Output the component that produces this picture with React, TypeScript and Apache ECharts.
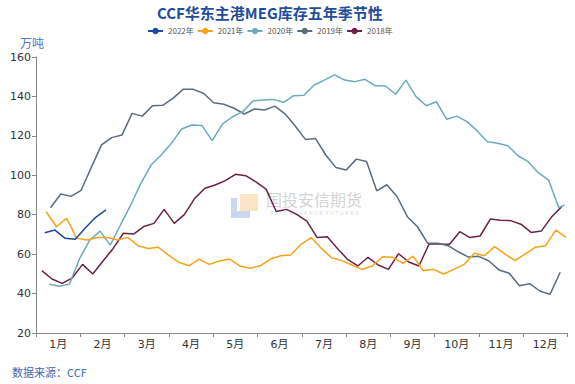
import React, { useEffect, useRef } from "react";
import * as echarts from "echarts";

const months = ["1月", "2月", "3月", "4月", "5月", "6月", "7月", "8月", "9月", "10月", "11月", "12月"];
const seriesNames = ["2022年", "2021年", "2020年", "2019年", "2018年"];
const seriesColors = ["#1a4ba0", "#f5a31a", "#6aacb8", "#5b6c7c", "#6b2248"];
// first Friday (day-of-year index, Jan 1 = 0) of each year's weekly data
const startDays = [6, 7, 9, 10, 4];

const v2022 = [70.9, 72.2, 68, 67.5, 73.4, 78.7, 82.4];
const v2021 = [81.5, 73.9, 78.2, 68, 67.2, 68.4, 68.4, 67.2, 68.5, 64.3, 62.9, 63.5,
  59.5, 55.9, 54.1, 57.5, 54.8, 56.5, 57.5, 54, 52.8, 54.1, 57.5, 59.2, 59.6,
  65, 68.4, 62.9, 58.2, 56.7, 54.5, 52.3, 54, 58.7, 58.4, 55.3, 59, 51.6, 52.3,
  49.9, 52.3, 54.8, 60.4, 59.2, 63.8, 60.1, 56.7, 60.1, 63.5, 64.3, 72.2, 68.5];
const v2020 = [44.7, 43.7, 44.8, 57.9, 67.2, 71.7, 64.6, 74.8, 84.9, 95.9, 105.2, 110.3,
  116.2, 123.5, 125.5, 125.2, 117.6, 125.9, 129.7, 132.3, 137.7, 138.2, 138.5, 137, 140.4, 140.6,
  145.8, 148.3, 150.9, 148.3, 147.5, 148.7, 145.4, 145.3, 141.1, 148.3, 139.9, 135.3, 137.3,
  128.4, 130, 127.2, 122.5, 117, 116.2, 115, 109.9, 106.9, 101.3, 97.6, 83.6, 84.9];
const lastDay2020 = 363;
const v2019 = [83.5, 90.5, 89.3, 92.4, 104, 115.4, 119.1, 120.4, 131.4, 130, 135.3, 135.5,
  139, 143.6, 143.6, 141.6, 136.8, 136, 134, 131.1, 133.6, 133.1, 135.1, 131.2, 125,
  118.2, 118.6, 110.3, 103.9, 102.7, 108.2, 107, 92.1, 95.2, 89.1, 79, 73.9, 65.5, 65.5,
  64.3, 61.2, 58.5, 58.9, 56.5, 52, 50.3, 44, 45, 41.3, 39.6, 50.8];
const v2018 = [51.6, 47.4, 45.2, 48, 54.8, 49.9, 56.5, 62.9, 70.6, 70.2, 74, 75.6, 82.7,
  75.6, 80.2, 88.3, 93.4, 95.1, 97.3, 100.5, 99.8, 96.7, 93, 81.6, 82.7, 80.2,
  76.8, 68.5, 68.8, 62.9, 57.3, 54, 58.4, 54.5, 52.3, 60.2, 56, 54, 65.3, 65.1,
  65, 71.4, 68.4, 69.2, 77.8, 77.2, 77, 75.2, 71, 71.7, 78.8, 84.1];

const allValues = [v2022, v2021, v2020, v2019, v2018];

export default function App() {
  const ref = useRef<HTMLDivElement>(null);
  useEffect(() => {
    if (!ref.current) return;
    const chart = echarts.init(ref.current, undefined, { renderer: "svg" });
    const series = allValues.map((vals, si) => {
      const data = vals.map((v, i) => {
        let d = startDays[si] + 7 * i;
        if (si === 2 && i === vals.length - 1) d = lastDay2020;
        return [d, v];
      });
      return {
        name: seriesNames[si],
        type: "line",
        xAxisIndex: 1,
        data,
        symbol: "circle",
        showSymbol: false,
        lineStyle: { width: 1.5, color: seriesColors[si] },
        itemStyle: { color: seriesColors[si] },
        z: 10 - si,
      };
    });
    chart.setOption({
      animation: false,
      textStyle: { fontFamily: "'DejaVu Sans', 'Noto Sans CJK SC', sans-serif" },
      title: {
        text: "CCF华东主港MEG库存五年季节性",
        left: 152,
        top: 0,
        textStyle: {
          fontSize: 15,
          fontWeight: "bold",
          color: "#1f4e9c",
          fontFamily: "'Noto Sans CJK SC', sans-serif",
        },
      },
      legend: {
        data: seriesNames,
        left: 142,
        top: 22,
        itemWidth: 15,
        itemHeight: 8,
        itemGap: 3,
        textStyle: { fontSize: 8, color: "#555", fontFamily: "'Noto Sans CJK SC', sans-serif" },
      },
      grid: { left: 36, right: 7.5, top: 57, bottom: 51, containLabel: false },
      xAxis: [
        {
          type: "category",
          data: months,
          boundaryGap: true,
          axisLine: { show: true, lineStyle: { color: "#888", width: 1 } },
          axisTick: { show: true, length: 4, lineStyle: { color: "#888" } },
          axisLabel: { color: "#333", fontSize: 11, margin: 6 },
          splitLine: { show: false },
        },
        {
          type: "value",
          min: 0,
          max: 365,
          show: false,
          splitLine: { show: false },
        },
      ],
      yAxis: {
        type: "value",
        min: 20,
        max: 160,
        interval: 20,
        axisLine: { show: true, lineStyle: { color: "#888", width: 1 } },
        axisTick: { show: true, length: 4, lineStyle: { color: "#888" } },
        axisLabel: { color: "#333", fontSize: 11, margin: 5 },
        splitLine: { show: false },
      },
      graphic: [
        {
          type: "text",
          left: 20,
          top: 36,
          style: { text: "万吨", fontSize: 12, fill: "#4a78cc", fontFamily: "'Noto Sans CJK SC', sans-serif" },
        },
        {
          type: "text",
          left: 12,
          top: 366,
          style: { text: "数据来源：CCF", fontSize: 11, fill: "#3a68b4", fontFamily: "'Noto Sans CJK SC', sans-serif" },
        },
        {
          type: "group",
          z: 0,
          children: [
            { type: "rect", shape: { x: 240, y: 194, width: 18, height: 17 }, style: { fill: "#f8dfb4", opacity: 0.8 }, z: 0 },
            { type: "rect", shape: { x: 231, y: 198, width: 6, height: 20 }, style: { fill: "#c8d3ec", opacity: 0.9 }, z: 1 },
            { type: "rect", shape: { x: 231, y: 211, width: 19, height: 7 }, style: { fill: "#c8d3ec", opacity: 0.9 }, z: 1 },
            {
              type: "text",
              x: 266,
              y: 191,
              style: { text: "国投安信期货", fontSize: 16, fill: "#d4d4d4", fontFamily: "'Noto Sans CJK SC', sans-serif" },
              z: 1,
            },
            {
              type: "text",
              x: 270,
              y: 210,
              style: { text: "S D I C  E S S E N C E  F U T U R E S", fontSize: 5, fill: "#dadada", fontFamily: "'DejaVu Sans', sans-serif" },
              z: 1,
            },
          ],
        },
      ],
      series,
    });
    return () => chart.dispose();
  }, []);
  return <div ref={ref} style={{ position: "absolute", left: 0, top: 0, width: 575, height: 384 }} />;
}
